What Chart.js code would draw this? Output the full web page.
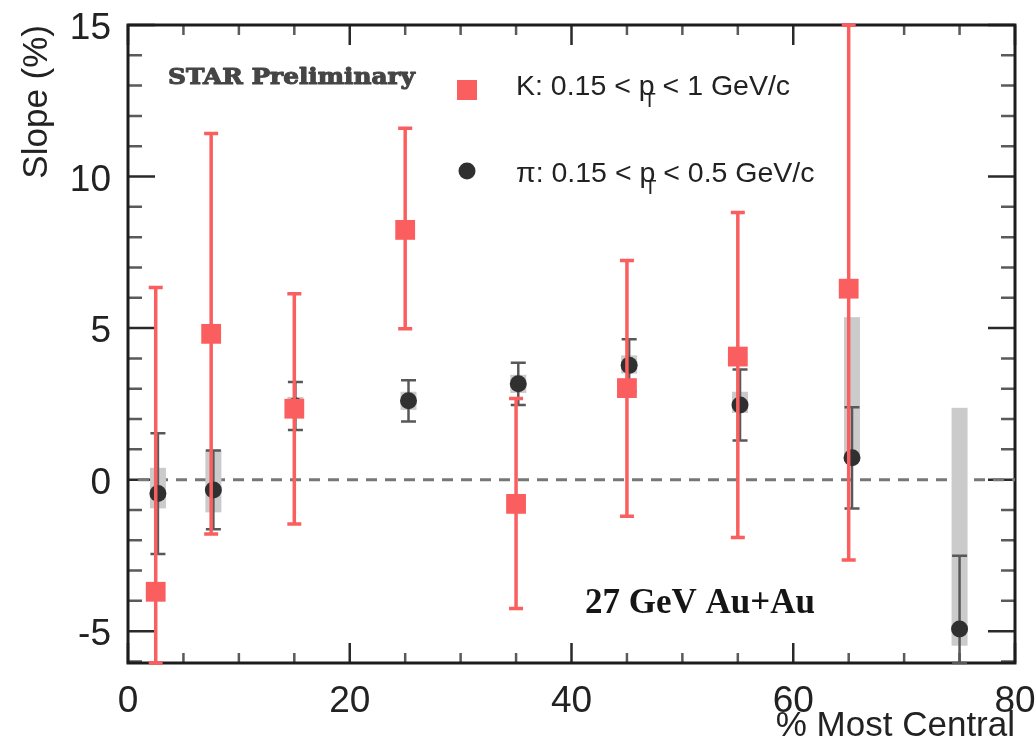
<!DOCTYPE html>
<html>
<head>
<meta charset="utf-8">
<script src="https://cdn.jsdelivr.net/npm/chart.js@4.4.1/dist/chart.umd.min.js"></script>
<style>
  html, body { margin: 0; background: #fff; }
  #wrap { width: 1036px; height: 744px; }
</style>
</head>
<body>
<div id="wrap"><canvas id="c" width="1036" height="744"></canvas></div>
<script>
// kaons, 0.15 < pT < 1 GeV/c : bin centre, slope (%), stat errors (down / up)
const K_X = [2.5, 7.5, 15, 25, 35, 45, 55, 65];
const K_Y = [-3.7, 4.81, 2.34, 8.24, -0.8, 3.02, 4.06, 6.3];
const K_ERR_LO = [10.04, 6.6, 3.8, 3.26, 3.45, 4.23, 5.97, 8.95];
const K_ERR_HI = [10.04, 6.61, 3.79, 3.35, 3.48, 4.21, 4.75, 8.95];

// pions, 0.15 < pT < 0.5 GeV/c : stat error (symmetric) and systematic band (down / up)
const PI_X = [2.7, 7.7, 15.1, 25.3, 35.2, 45.2, 55.2, 65.3, 75.0];
const PI_Y = [-0.46, -0.34, 2.43, 2.6, 3.16, 3.77, 2.46, 0.72, -4.93];
const PI_STAT = [1.99, 1.3, 0.79, 0.68, 0.7, 0.86, 1.17, 1.67, 2.42];
const PI_SYS_LO = [0.49, 0.74, 0.3, 0.3, 0.3, 0.27, 0.26, 0.0, 0.55];
const PI_SYS_HI = [0.85, 1.33, 0.3, 0.3, 0.3, 0.33, 0.44, 4.64, 7.3];

const X_TICKS = [0, 20, 40, 60, 80];
const Y_TICKS = [-5, 0, 5, 10, 15];

const RED = '#fb5e5e', DOT = '#303030', SYS = '#cbcbcb', BAR = '#585858', INK = '#1c1c1c';
const SANS = '"Liberation Sans", Arial, Helvetica, sans-serif';

function clipTo(ctx, a) { ctx.beginPath(); ctx.rect(a.left, a.top, a.right - a.left, a.bottom - a.top); ctx.clip(); }

// error bars are cut at the frame, with the cap sitting on the frame edge
function errBars(chart, xs, ys, lo, hi, col, lw, capW) {
  const { ctx, chartArea: a, scales: { x, y } } = chart;
  const clampY = p => Math.min(a.bottom, Math.max(a.top, p));
  ctx.save();
  ctx.strokeStyle = col; ctx.lineWidth = lw; ctx.lineCap = 'butt';
  xs.forEach((xv, i) => {
    const px = x.getPixelForValue(xv);
    const y0 = clampY(y.getPixelForValue(ys[i] - lo[i])), y1 = clampY(y.getPixelForValue(ys[i] + hi[i]));
    ctx.beginPath(); ctx.moveTo(px, y0); ctx.lineTo(px, y1); ctx.stroke();
    ctx.beginPath();
    ctx.moveTo(px - capW / 2, y0); ctx.lineTo(px + capW / 2, y0);
    ctx.moveTo(px - capW / 2, y1); ctx.lineTo(px + capW / 2, y1);
    ctx.stroke();
  });
  ctx.restore();
}

// text with a subscripted T hung under the "p"
function ptLabel(ctx, pre, post, x, y) {
  ctx.font = '28.5px ' + SANS; ctx.textBaseline = 'alphabetic'; ctx.textAlign = 'left';
  ctx.fillText(pre, x, y); x += ctx.measureText(pre).width;
  ctx.fillText('p', x, y); const pw = ctx.measureText('p').width;
  ctx.font = '20px ' + SANS; ctx.fillText('T', x + pw * 0.3, y + 12);
  ctx.font = '28.5px ' + SANS; ctx.fillText(post, x + pw, y);
}

// squeeze/stretch a label to a given width, optionally thickened with a stroke
function fitText(ctx, txt, x, y, w, thick) {
  const m = ctx.measureText(txt).width;
  ctx.save(); ctx.translate(x, y); ctx.scale(w / m, 1);
  ctx.fillText(txt, 0, 0);
  if (thick) { ctx.strokeStyle = ctx.fillStyle; ctx.lineWidth = thick; ctx.lineJoin = 'round'; ctx.strokeText(txt, 0, 0); }
  ctx.restore();
}

const decor = {
  id: 'decor',
  beforeDatasetsDraw(chart) {
    const { ctx, chartArea: a, scales: { x, y } } = chart;
    ctx.save();
    // ticks on all four sides
    ctx.lineCap = 'butt'; ctx.lineWidth = 2.5;
    for (let v = Math.ceil(y.min); v <= y.max; v++) {
      const major = Y_TICKS.includes(v), py = y.getPixelForValue(v), len = major ? 27 : 14;
      ctx.strokeStyle = major ? '#2a2a2a' : '#5a5a5a';
      ctx.beginPath(); ctx.moveTo(a.left, py); ctx.lineTo(a.left + len, py);
      ctx.moveTo(a.right, py); ctx.lineTo(a.right - len, py); ctx.stroke();
    }
    for (let v = 0; v <= 80; v += 5) {
      const major = X_TICKS.includes(v), px = x.getPixelForValue(v), len = major ? 20 : 10;
      ctx.strokeStyle = major ? '#2a2a2a' : '#5a5a5a';
      ctx.beginPath(); ctx.moveTo(px, a.bottom); ctx.lineTo(px, a.bottom - len);
      ctx.moveTo(px, a.top); ctx.lineTo(px, a.top + len); ctx.stroke();
    }
    // frame
    ctx.strokeStyle = INK; ctx.lineWidth = 3;
    ctx.strokeRect(a.left, a.top, a.right - a.left, a.bottom - a.top);

    clipTo(ctx, a);
    // zero line
    const y0 = y.getPixelForValue(0);
    ctx.strokeStyle = '#777'; ctx.lineWidth = 3; ctx.setLineDash([11, 8]);
    ctx.beginPath(); ctx.moveTo(a.left + 10, y0); ctx.lineTo(a.right, y0); ctx.stroke();
    ctx.setLineDash([]);
    // pion systematic boxes
    ctx.fillStyle = SYS;
    PI_X.forEach((xv, i) => {
      const px = x.getPixelForValue(xv);
      const t = y.getPixelForValue(PI_Y[i] + PI_SYS_HI[i]), b = y.getPixelForValue(PI_Y[i] - PI_SYS_LO[i]);
      ctx.fillRect(px - 8, t, 16, b - t);
    });
    ctx.restore();
  },
  beforeDatasetDraw(chart, args) {
    if (args.index === 1) errBars(chart, PI_X, PI_Y, PI_STAT, PI_STAT, BAR, 2.5, 15);
    if (args.index === 0) errBars(chart, K_X, K_Y, K_ERR_LO, K_ERR_HI, RED, 3.5, 14);
  },
  afterDatasetsDraw(chart) {
    const { ctx } = chart;
    ctx.save();
    ctx.fillStyle = '#454545'; ctx.textBaseline = 'alphabetic'; ctx.textAlign = 'left';
    ctx.font = 'bold 23px "DejaVu Serif", serif';
    fitText(ctx, 'STAR Preliminary', 168, 84, 247, 1.1);

    ctx.fillStyle = '#151515';
    ctx.font = 'bold 35px "Liberation Serif", "Times New Roman", serif';
    ctx.fillText('27 GeV Au+Au', 585, 613);

    // legend
    ctx.fillStyle = RED; ctx.fillRect(457, 80, 20, 20);
    ctx.fillStyle = DOT; ctx.beginPath(); ctx.arc(467, 171, 8.5, 0, Math.PI * 2); ctx.fill();
    ctx.fillStyle = '#222';
    ptLabel(ctx, 'K: 0.15 < ', ' < 1 GeV/c', 516, 95);
    ptLabel(ctx, 'π: 0.15 < ', ' < 0.5 GeV/c', 516, 182);
    ctx.restore();
  }
};

new Chart(document.getElementById('c'), {
  type: 'scatter',
  data: {
    datasets: [
      { label: 'K', data: K_X.map((v, i) => ({ x: v, y: K_Y[i] })), pointStyle: 'rect',
        pointRadius: 14, pointHoverRadius: 14, backgroundColor: RED, borderWidth: 0 },
      { label: 'π', data: PI_X.map((v, i) => ({ x: v, y: PI_Y[i] })), pointStyle: 'circle',
        pointRadius: 8.5, pointHoverRadius: 8.5, backgroundColor: DOT, borderWidth: 0 }
    ]
  },
  options: {
    responsive: false, animation: false, events: [],
    layout: { padding: { top: 25, right: 21, left: 0, bottom: 0 } },
    plugins: { legend: { display: false }, tooltip: { enabled: false } },
    scales: {
      x: {
        type: 'linear', min: 0, max: 80,
        afterBuildTicks: s => { s.ticks = X_TICKS.map(v => ({ value: v })); },
        afterFit: s => { s.height = 81; s.paddingLeft = 0; s.paddingRight = 0; },
        grid: { display: false }, border: { display: false },
        ticks: { font: { family: SANS, size: 37, lineHeight: 1 }, color: '#222', padding: 12, maxRotation: 0, autoSkip: false },
        title: { display: true, text: '% Most Central', align: 'end', color: '#222',
                 font: { family: SANS, size: 35, lineHeight: 1 }, padding: { top: 0, bottom: 0 } }
      },
      y: {
        type: 'linear', min: -6.05, max: 15,
        afterBuildTicks: s => { s.ticks = Y_TICKS.map(v => ({ value: v })); },
        afterFit: s => { s.width = 128; s.paddingTop = 0; s.paddingBottom = 0; },
        grid: { display: false }, border: { display: false },
        ticks: { font: { family: SANS, size: 37, lineHeight: 1 }, color: '#222', padding: 9, labelOffset: 4 },
        title: { display: true, text: 'Slope (%)', align: 'end', color: '#222',
                 font: { family: SANS, size: 35, lineHeight: 1 }, padding: { top: 20, bottom: 0 } }
      }
    }
  },
  plugins: [decor]
});
</script>
</body>
</html>
